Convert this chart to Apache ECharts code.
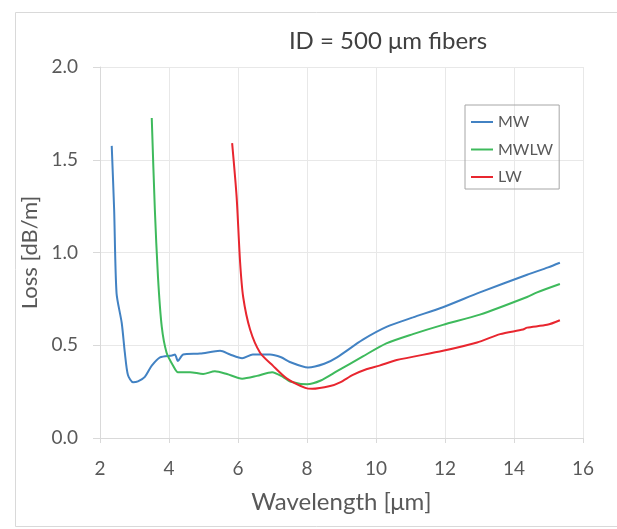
<!DOCTYPE html>
<html><head><meta charset="utf-8">
<script src="https://cdn.jsdelivr.net/npm/echarts@6/dist/echarts.min.js"></script>
<style>html,body{margin:0;padding:0;background:#fff}#c{width:617px;height:529px}</style>
</head><body><div id="c"></div>
<script>
const titleText = 'ID = 500 μm fibers';
const xTicks = [2, 4, 6, 8, 10, 12, 14, 16];
const yTicks = [0, 0.5, 1.0, 1.5, 2.0];
const seriesNames = ['MW', 'MWLW', 'LW'];

const mwX = [2.34, 2.41, 2.48, 2.63, 2.72, 2.81, 2.96, 3.1, 3.3, 3.5, 3.74, 4.09, 4.17, 4.26, 4.41, 4.9, 5.48, 5.77, 6.12, 6.43, 6.93, 7.25, 7.5, 8.03, 8.5, 8.87, 9.62, 10.32, 11.07, 11.94, 13.01, 14.38, 14.99, 15.33];
const mwY = [1.575, 1.23, 0.78, 0.62, 0.46, 0.34, 0.30, 0.305, 0.33, 0.39, 0.435, 0.445, 0.45, 0.415, 0.45, 0.455, 0.47, 0.45, 0.43, 0.45, 0.45, 0.435, 0.41, 0.38, 0.40, 0.435, 0.53, 0.60, 0.65, 0.705, 0.785, 0.88, 0.92, 0.945];

const mwlwX = [3.5, 3.59, 3.68, 3.79, 3.93, 4.12, 4.26, 4.61, 4.99, 5.33, 5.68, 6.12, 6.55, 6.99, 7.3, 7.51, 8.0, 8.4, 8.87, 9.62, 10.3, 11.07, 11.94, 13.01, 14.38, 14.67, 15.33];
const mwlwY = [1.725, 1.23, 0.87, 0.60, 0.46, 0.39, 0.355, 0.355, 0.345, 0.36, 0.345, 0.32, 0.335, 0.355, 0.33, 0.305, 0.29, 0.31, 0.36, 0.44, 0.51, 0.56, 0.61, 0.665, 0.76, 0.785, 0.83];

const lwX = [5.83, 5.96, 6.06, 6.15, 6.35, 6.64, 7.01, 7.42, 7.95, 8.15, 8.67, 8.96, 9.33, 9.74, 10.1, 10.6, 11.94, 12.93, 13.6, 14.26, 14.38, 14.96, 15.33];
const lwY = [1.59, 1.30, 0.95, 0.76, 0.585, 0.46, 0.39, 0.32, 0.27, 0.265, 0.28, 0.30, 0.34, 0.372, 0.39, 0.42, 0.47, 0.515, 0.56, 0.585, 0.595, 0.61, 0.635];

const colors = ['#4282C3', '#3EBA5C', '#E8262F'];
const zip = (xs, ys) => xs.map((x, i) => [x, ys[i]]);
const seriesData = [zip(mwX, mwY), zip(mwlwX, mwlwY), zip(lwX, lwY)];

const FONT = 'Lato';
const chart = echarts.init(document.getElementById('c'), null, {renderer: 'canvas'});
chart.setOption({
  animation: false,
  backgroundColor: '#fff',
  title: {
    text: titleText, left: 383, top: 24, textAlign: 'center',
    textStyle: {fontFamily: FONT, fontSize: 24, fontWeight: 'normal', color: '#404040'}
  },
  graphic: [{
    type: 'rect', left: 13, top: 10, silent: true,
    shape: {width: 620, height: 514},
    style: {fill: 'none', stroke: '#d9d9d9', lineWidth: 1}
  }],
  legend: {
    data: seriesNames, orient: 'vertical', left: 465, top: 105,
    icon: 'rect', itemWidth: 22, itemHeight: 2, itemGap: 9.5,
    padding: [8, 6, 3, 6],
    borderColor: '#a6a6a6', borderWidth: 1,
    textStyle: {fontFamily: FONT, fontSize: 16, color: '#595959', lineHeight: 18}
  },
  grid: {left: 100, right: 34, top: 67, bottom: 91},
  xAxis: {
    type: 'value', min: 2, max: 16, interval: 2,
    name: 'Wavelength [μm]', nameLocation: 'middle', nameGap: 52,
    nameTextStyle: {fontFamily: FONT, fontSize: 24, color: '#595959'},
    axisLine: {show: true, lineStyle: {color: '#d9d9d9'}},
    axisTick: {show: true, length: 5, lineStyle: {color: '#d9d9d9'}},
    splitLine: {show: true, lineStyle: {color: '#e8e8e8'}},
    axisLabel: {margin: 21, fontFamily: FONT, fontSize: 19, color: '#595959',
      formatter: v => xTicks.includes(v) ? String(v) : ''}
  },
  yAxis: {
    type: 'value', min: 0, max: 2, interval: 0.5,
    name: 'Loss [dB/m]', nameLocation: 'middle', nameGap: 54, nameRotate: 90,
    nameTextStyle: {fontFamily: FONT, fontSize: 22, color: '#595959'},
    axisLine: {show: true, lineStyle: {color: '#d9d9d9'}},
    axisTick: {show: true, length: 7, lineStyle: {color: '#d9d9d9'}},
    splitLine: {show: true, lineStyle: {color: '#e8e8e8'}},
    axisLabel: {margin: 22, fontFamily: FONT, fontSize: 19, color: '#595959',
      formatter: v => yTicks.includes(v) ? v.toFixed(1) : ''}
  },
  series: seriesNames.map((n, i) => ({
    name: n, type: 'line', data: seriesData[i], showSymbol: false,
    smooth: 0.25,
    lineStyle: {width: 2, color: colors[i]}, itemStyle: {color: colors[i]}
  }))
});
</script></body></html>
